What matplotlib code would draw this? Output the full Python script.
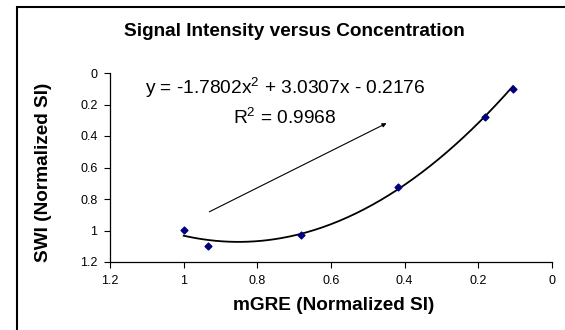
import numpy as np
import matplotlib.pyplot as plt
from matplotlib.patches import Rectangle

plt.rcParams['font.family'] = ['Liberation Sans', 'DejaVu Sans']
plt.rcParams['mathtext.fontset'] = 'custom'
plt.rcParams['mathtext.rm'] = 'Liberation Sans'
plt.rcParams['mathtext.it'] = 'Liberation Sans'

# datos
mgre = [1.0, 0.935, 0.682, 0.417, 0.183, 0.106]
swi = [0.997, 1.096, 1.029, 0.726, 0.277, 0.10]

# coeficientes de la linea de tendencia (del texto del grafico)
coefs = [-1.7802, 3.0307, -0.2176]
r2 = 0.9968

x_ticks = [0, 0.2, 0.4, 0.6, 0.8, 1, 1.2]
y_ticks = [0, 0.2, 0.4, 0.6, 0.8, 1, 1.2]
tick_labels = ['0', '0.2', '0.4', '0.6', '0.8', '1', '1.2']

fig = plt.figure(figsize=(5.65, 3.3), dpi=100)
ax = fig.add_axes([110 / 565, 1 - 262 / 330, 442 / 565, 189 / 330])

# marco exterior
fig.patches.append(Rectangle((17 / 565, -0.1), 1.2, 1.1 - 7 / 330,
                             transform=fig.transFigure, fill=False,
                             edgecolor='black', linewidth=1.5))

xs = np.linspace(min(mgre), max(mgre), 200)
ax.plot(xs, np.polyval(coefs, xs), color='black', linewidth=1.3, zorder=2)
ax.scatter(mgre, swi, marker='D', s=12, color='#000080', zorder=3)

ax.set_xlim(1.2, 0)
ax.set_ylim(1.2, 0)
ax.set_xticks(x_ticks)
ax.set_yticks(y_ticks)
ax.set_xticklabels(tick_labels)
ax.set_yticklabels(tick_labels)
ax.tick_params(labelsize=9, length=4, width=0.8, direction='out', pad=5)
for s in ['top', 'right']:
    ax.spines[s].set_visible(False)
ax.spines['left'].set_linewidth(0.9)
ax.spines['bottom'].set_linewidth(0.9)

fig.text(294 / 565, 1 - 32 / 330, 'Signal Intensity versus Concentration',
         ha='center', va='center', fontsize=13.7, fontweight='bold')
fig.text(334 / 565, 1 - 306 / 330, 'mGRE (Normalized SI)',
         ha='center', va='center', fontsize=13.7, fontweight='bold')
fig.text(44 / 565, 1 - 172 / 330, 'SWI (Normalized SI)', rotation=90,
         ha='center', va='center', fontsize=13.7, fontweight='bold')

eq = 'y = %.4fx$^2$ + %.4fx - %.4f' % (coefs[0], coefs[1], -coefs[2])
ax.text(0.725, 0.095, eq, ha='center', va='center', fontsize=13.8)
ax.text(0.725, 0.285, 'R$^2$ = %.4f' % r2, ha='center', va='center', fontsize=13.8)

ax.annotate('', xy=(0.4425, 0.311), xytext=(0.937, 0.889),
            arrowprops=dict(arrowstyle='-|>', color='black', lw=0.8,
                            mutation_scale=6))

fig.savefig('out.png', dpi=100)
